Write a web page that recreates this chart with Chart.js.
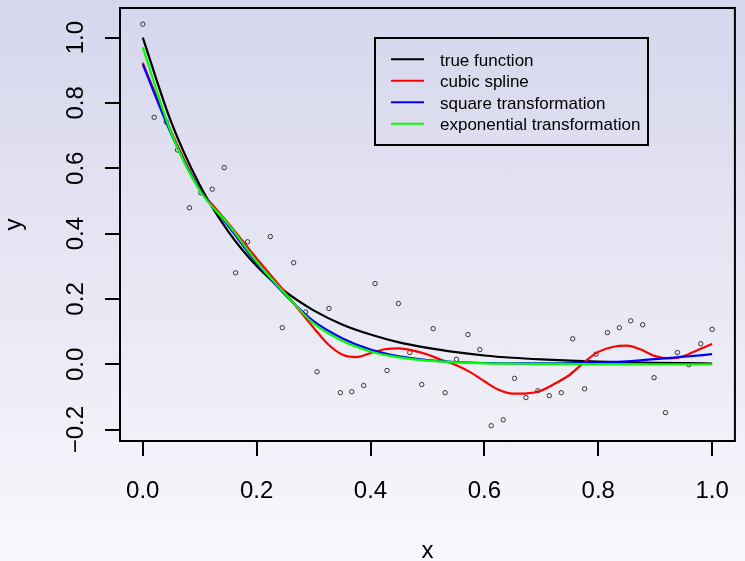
<!DOCTYPE html>
<html>
<head>
<meta charset="utf-8">
<script src="https://cdn.jsdelivr.net/npm/chart.js@4.4.0/dist/chart.umd.min.js"></script>
<style>
  html, body { margin: 0; padding: 0; }
  #wrap {
    width: 745px; height: 561px; overflow: hidden; position: relative;
    background: linear-gradient(to bottom, #d6d6ed 0%, #f8f8fc 100%);
  }
  #wrap canvas { position: absolute; left: 0; top: 0; }
</style>
</head>
<body>
<div id="wrap"><canvas id="chart" width="750" height="561"></canvas></div>
<script>
// ===== DATA =====
const xTicks = [0, 0.2, 0.4, 0.6, 0.8, 1.0];
const yTicks = [-0.2, 0, 0.2, 0.4, 0.6, 0.8, 1.0];

// observed points
const pointX = [0, 0.020, 0.041, 0.061, 0.082, 0.102, 0.122, 0.143, 0.163, 0.184,
    0.204, 0.224, 0.245, 0.265, 0.286, 0.306, 0.327, 0.347, 0.367, 0.388,
    0.408, 0.429, 0.449, 0.469, 0.490, 0.510, 0.531, 0.551, 0.571, 0.592,
    0.612, 0.633, 0.653, 0.673, 0.694, 0.714, 0.735, 0.755, 0.776, 0.796,
    0.816, 0.837, 0.857, 0.878, 0.898, 0.918, 0.939, 0.959, 0.980, 1.000];
const pointY = [1.041, 0.756, 0.742, 0.656, 0.479, 0.525, 0.536, 0.602, 0.280, 0.375,
    0.308, 0.391, 0.112, 0.311, 0.160, -0.023, 0.171, -0.087, -0.084, -0.065,
    0.247, -0.019, 0.186, 0.036, -0.062, 0.109, -0.087, 0.015, 0.091, 0.045,
    -0.188, -0.170, -0.043, -0.102, -0.081, -0.096, -0.087, 0.078, -0.075, 0.031,
    0.097, 0.112, 0.133, 0.121, -0.041, -0.148, 0.036, -0.001, 0.063, 0.107];

// fitted curves
const curveX = [0, 0.05, 0.10, 0.15, 0.20, 0.25, 0.30, 0.35, 0.40, 0.45, 0.50,
    0.55, 0.60, 0.65, 0.70, 0.75, 0.80, 0.85, 0.90, 0.95, 1.00];
const trueY = [1.000, 0.741, 0.549, 0.407, 0.301, 0.223, 0.165, 0.122, 0.091, 0.067, 0.050,
    0.037, 0.027, 0.020, 0.015, 0.011, 0.008, 0.006, 0.0045, 0.0033, 0.0025];
const squareY = [0.918, 0.705, 0.535, 0.424, 0.310, 0.213, 0.132, 0.080, 0.045, 0.024, 0.013,
    0.007, 0.004, 0.003, 0.003, 0.004, 0.006, 0.009, 0.016, 0.023, 0.031];
const expY = [0.970, 0.708, 0.532, 0.429, 0.314, 0.216, 0.125, 0.072, 0.039, 0.021, 0.011,
    0.006, 0.003, 0.002, 0.001, 0.001, 0.0005, 0.0003, 0.0002, 0.0001, 0.0001];

const splineX = [0, 0.025, 0.05, 0.075, 0.10, 0.125, 0.15, 0.175, 0.20, 0.225, 0.25,
    0.275, 0.30, 0.325, 0.35, 0.375, 0.40, 0.425, 0.45, 0.475, 0.50,
    0.525, 0.55, 0.575, 0.60, 0.625, 0.65, 0.675, 0.70, 0.725, 0.75,
    0.775, 0.80, 0.825, 0.85, 0.875, 0.90, 0.925, 0.95, 0.975, 1.00];
const splineY = [0.923, 0.815, 0.712, 0.618, 0.535, 0.483, 0.432, 0.378, 0.324, 0.272, 0.220,
    0.165, 0.112, 0.062, 0.030, 0.022, 0.034, 0.046, 0.049, 0.042, 0.030,
    0.013, -0.002, -0.024, -0.052, -0.078, -0.090, -0.089, -0.080, -0.058, -0.032,
    0.006, 0.038, 0.053, 0.057, 0.045, 0.025, 0.018, 0.025, 0.044, 0.062];

const FONT = "'Liberation Sans', Arial, Helvetica, sans-serif";

function pairs(xs, ys) {
    return xs.map((x, i) => ({ x: x, y: ys[i] }));
}

// ===== PLUGINS =====
const boxPlugin = {
    id: 'box',
    afterDraw(chart) {
        const { ctx, chartArea: a } = chart;
        ctx.save();
        ctx.strokeStyle = '#000';
        ctx.lineWidth = 2;
        ctx.strokeRect(a.left, a.top, a.right - a.left, a.bottom - a.top);
        ctx.restore();
    }
};

// vertical tick labels on the y axis (R style)
const yLabelPlugin = {
    id: 'yLabels',
    afterDraw(chart) {
        const { ctx } = chart;
        const y = chart.scales.y;
        ctx.save();
        ctx.fillStyle = '#000';
        ctx.font = '24px ' + FONT;
        ctx.textAlign = 'center';
        ctx.textBaseline = 'alphabetic';
        yTicks.forEach(v => {
            ctx.save();
            ctx.translate(83, y.getPixelForValue(v));
            ctx.rotate(-Math.PI / 2);
            ctx.fillText(v.toFixed(1).replace('-', '\u2212'), 0, 0);
            ctx.restore();
        });
        ctx.restore();
    }
};

const legendBoxPlugin = {
    id: 'legendBox',
    afterDraw(chart) {
        const { ctx } = chart;
        const items = chart.data.datasets.filter(d => d.inLegend);
        const left = 375, top = 38, w = 273, h = 107;
        ctx.save();
        ctx.strokeStyle = '#000';
        ctx.lineWidth = 2;
        ctx.strokeRect(left, top, w, h);
        ctx.font = '17px ' + FONT;
        ctx.textBaseline = 'alphabetic';
        ctx.textAlign = 'left';
        items.forEach((d, i) => {
            const yy = top + 21.3 + i * 21.5;
            ctx.strokeStyle = d.borderColor;
            ctx.lineWidth = 2;
            ctx.beginPath();
            ctx.moveTo(left + 16, yy);
            ctx.lineTo(left + 49, yy);
            ctx.stroke();
            ctx.fillStyle = '#000';
            ctx.fillText(d.label, left + 65, yy + 6.3);
        });
        ctx.restore();
    }
};

// ===== CHART =====
function lineSet(label, data, color, order) {
    return {
        label: label,
        data: data,
        borderColor: color,
        borderWidth: 2.2,
        pointRadius: 0,
        fill: false,
        cubicInterpolationMode: 'monotone',
        inLegend: true,
        order: order
    };
}

new Chart(document.getElementById('chart'), {
    type: 'line',
    data: {
        datasets: [
            lineSet('true function', pairs(curveX, trueY), '#000000', 4),
            lineSet('cubic spline', pairs(splineX, splineY), '#ff0000', 3),
            lineSet('square transformation', pairs(curveX, squareY), '#0000ff', 2),
            lineSet('exponential transformation', pairs(curveX, expY), '#00ff00', 1),
            {
                label: 'data',
                data: pairs(pointX, pointY),
                showLine: false,
                pointStyle: 'circle',
                pointRadius: 2.2,
                pointBorderWidth: 1,
                pointBorderColor: '#333333',
                pointBackgroundColor: 'rgba(0,0,0,0)',
                inLegend: false,
                order: 5
            }
        ]
    },
    options: {
        responsive: false,
        animation: false,
        layout: { padding: { top: 8, right: 3, left: 0, bottom: 0 } },
        plugins: {
            legend: { display: false },
            tooltip: { enabled: false }
        },
        scales: {
            x: {
                type: 'linear',
                min: -0.04,
                max: 1.04,
                afterBuildTicks: (axis) => { axis.ticks = xTicks.map(v => ({ value: v })); },
                afterFit: (s) => { s.height = 120; },
                border: { display: false },
                grid: {
                    drawOnChartArea: false,
                    drawTicks: true,
                    tickLength: 15,
                    lineWidth: 2,
                    color: '#000'
                },
                ticks: {
                    autoSkip: false,
                    maxRotation: 0,
                    padding: 21,
                    color: '#000',
                    font: { family: FONT, size: 24 },
                    callback: (v) => v.toFixed(1)
                },
                title: {
                    display: true,
                    text: 'x',
                    color: '#000',
                    font: { family: FONT, size: 24, lineHeight: 1 },
                    padding: { top: 0, bottom: -2 }
                }
            },
            y: {
                type: 'linear',
                min: -0.2348,
                max: 1.0906,
                afterBuildTicks: (axis) => { axis.ticks = yTicks.map(v => ({ value: v })); },
                afterFit: (s) => { s.width = 120; },
                border: { display: false },
                grid: {
                    drawOnChartArea: false,
                    drawTicks: true,
                    tickLength: 15,
                    lineWidth: 2,
                    color: '#000'
                },
                ticks: { display: false },
                title: {
                    display: true,
                    text: 'y',
                    color: '#000',
                    font: { family: FONT, size: 24, lineHeight: 1 },
                    padding: { top: 2, bottom: 0 }
                }
            }
        }
    },
    plugins: [boxPlugin, yLabelPlugin, legendBoxPlugin]
});
</script>
</body>
</html>
